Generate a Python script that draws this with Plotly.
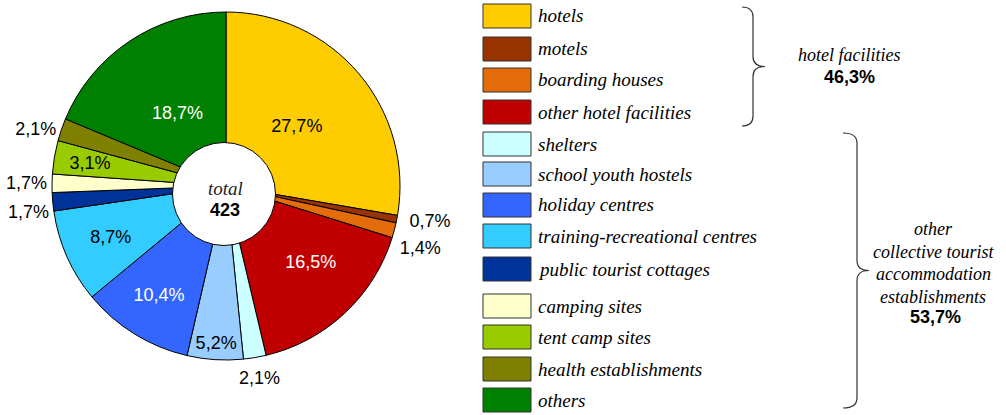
import plotly.graph_objects as go

categories = ["hotels", "motels", "boarding houses", "other hotel facilities",
              "shelters", "school youth hostels", "holiday centres",
              "training-recreational centres", "public tourist cottages",
              "camping sites", "tent camp sites", "health establishments", "others"]
shares = [27.7, 0.7, 1.4, 16.5, 2.1, 5.2, 10.4, 8.7, 1.7, 1.7, 3.1, 2.1, 18.7]
colors = ["#FFCC00", "#993300", "#E46C0A", "#C00000", "#CCFFFF", "#99CCFF",
          "#3366FF", "#33CCFF", "#003399", "#FFFFCC", "#99CC00", "#808000", "#008000"]
label_inside = [True, False, False, True, False, True, True, True, False, False, True, False, True]
text_col = ["black", "black", "black", "white", "black", "black", "white",
            "black", "black", "black", "black", "black", "white"]
total = 423
group_lines_1 = ["hotel facilities"]
group_lines_2 = ["other", "collective tourist", "accommodation", "establishments"]
group_shares = [46.3, 53.7]

# label placement styling: angular nudge (deg) and radial scale of each label layer
label_nudge = [0, 0, 5, -5, 7, 0, 0, 0, -3.4, 0, 0, 0, 0]
label_scale = [0.94, 1.045, 1.03, 0.98, 1.045, 1.05, 0.97, 0.92, 1.0, 1.0, 0.87, 1.0, 0.78]

W, H = 1006, 415
def px(x):
    return x / W
def py(y):
    return 1 - y / H

SERIF = "Liberation Serif, Times New Roman, serif"
SANS = "Liberation Sans, Arial, sans-serif"
CX, CY, R = 226, 186, 174
def dom(f):
    return dict(x=[px(CX - R * f), px(CX + R * f)], y=[py(CY + R * f), py(CY - R * f)])

common = dict(labels=categories, values=shares, sort=False, direction="clockwise",
              showlegend=False, texttemplate="%{value:.1f}%",
              insidetextorientation="horizontal", hole=0.12)

fig = go.Figure()
fig.add_trace(go.Pie(
    marker=dict(colors=colors, line=dict(color="black", width=1)),
    rotation=0, domain=dom(1.0), textposition="none",
    hoverinfo="label+value", **common))
# transparent label layers, one per slice label (no connector lines)
for i, inside in enumerate(label_inside):
    pos = "inside" if inside else "outside"
    fig.add_trace(go.Pie(
        marker=dict(colors=["rgba(0,0,0,0)"] * len(shares), line=dict(width=0)),
        rotation=label_nudge[i], domain=dom(label_scale[i]),
        textposition=[pos if j == i else "none" for j in range(len(shares))],
        textfont=dict(family=SANS, size=18, color=text_col),
        outsidetextfont=dict(family=SANS, size=18, color="black"),
        hoverinfo="skip", **common))

shapes = []
annotations = []
def ann(x, y, text, font, xanchor="center"):
    annotations.append(dict(x=px(x), y=py(y), xref="paper", yref="paper", text=text,
                            xanchor=xanchor, yanchor="middle", showarrow=False, font=font))

# hole overlay
shapes.append(dict(type="circle", xref="paper", yref="paper",
                   x0=px(224 - 51.5), x1=px(224 + 51.5), y0=py(194 + 51.5), y1=py(194 - 51.5),
                   fillcolor="white", line=dict(color="black", width=1), layer="above"))
ann(225, 188, "<i>total</i>", dict(family=SERIF, size=19, color="#222"))
ann(225, 210, f"<b>{total}</b>", dict(family=SANS, size=18, color="black"))

# legend
box_tops = [4, 37, 68, 100, 132, 162, 193, 224, 257, 294, 325, 357, 388]
for cat, col, top in zip(categories, colors, box_tops):
    shapes.append(dict(type="rect", xref="paper", yref="paper",
                       x0=px(483), x1=px(531), y0=py(top + 24), y1=py(top),
                       fillcolor=col, line=dict(color="#333", width=1)))
    ann(536, top + 12, f"<i>{cat}</i>", dict(family=SERIF, size=19, color="black"), xanchor="left")

# braces
def brace(x0, xm, xt, ytop, ybot):
    ymid = (ytop + ybot) / 2
    r = 10
    pts = [
        f"M {px(x0)},{py(ytop)}",
        f"Q {px(xm)},{py(ytop)} {px(xm)},{py(ytop + r)}",
        f"L {px(xm)},{py(ymid - r)}",
        f"Q {px(xm)},{py(ymid)} {px(xt)},{py(ymid)}",
        f"Q {px(xm)},{py(ymid)} {px(xm)},{py(ymid + r)}",
        f"L {px(xm)},{py(ybot - r)}",
        f"Q {px(xm)},{py(ybot)} {px(x0)},{py(ybot)}",
    ]
    return dict(type="path", xref="paper", yref="paper", path=" ".join(pts),
                line=dict(color="#333", width=1.2))

shapes.append(brace(742, 753, 765, 7, 126))
shapes.append(brace(843, 857, 869, 133, 408))

fmt = lambda v: f"{v:.1f}".replace(".", ",") + "%"
ann(849, 55, f"<i>{group_lines_1[0]}</i>", dict(family=SERIF, size=18, color="black"))
ann(849, 77, f"<b>{fmt(group_shares[0])}</b>", dict(family=SANS, size=18, color="black"))
for i, line in enumerate(group_lines_2):
    ann(933, 229 + 22.5 * i, f"<i>{line}</i>", dict(family=SERIF, size=18, color="black"))
ann(935, 317, f"<b>{fmt(group_shares[1])}</b>", dict(family=SANS, size=18, color="black"))

fig.update_layout(width=W, height=H, margin=dict(l=0, r=0, t=0, b=0),
                  paper_bgcolor="white", plot_bgcolor="white", separators=", ",
                  uniformtext=dict(minsize=18, mode="show"),
                  shapes=shapes, annotations=annotations)
fig.write_html("out.html", config={"displayModeBar": False},
               post_script="document.body.style.margin='0px';")
